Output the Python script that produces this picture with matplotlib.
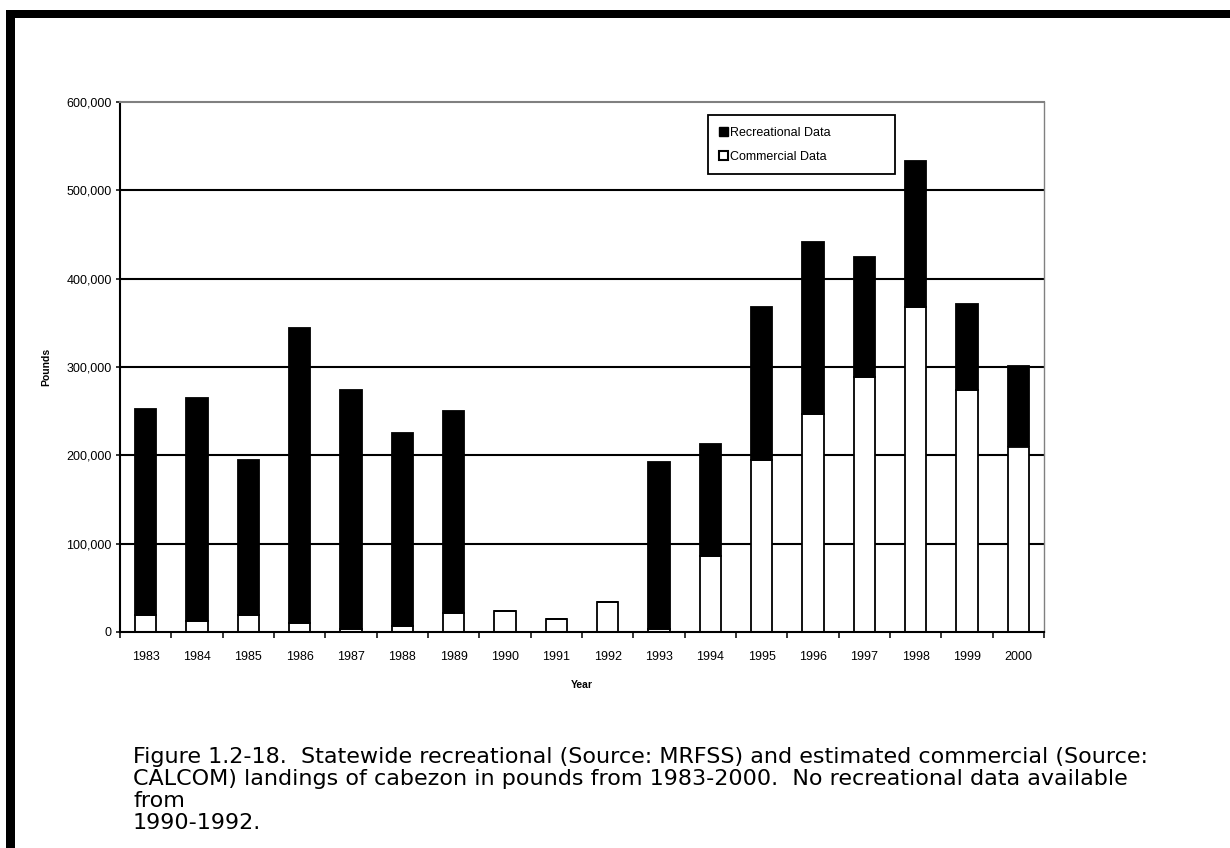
import matplotlib
matplotlib.use("Agg")
import matplotlib.pyplot as plt
from matplotlib.patches import Patch, Rectangle
from matplotlib.ticker import FuncFormatter

plt.rcParams['font.family'] = ['Liberation Sans', 'DejaVu Sans']

years = [1983, 1984, 1985, 1986, 1987, 1988, 1989, 1990, 1991,
         1992, 1993, 1994, 1995, 1996, 1997, 1998, 1999, 2000]
commercial = [19000, 12500, 19000, 10000, 3500, 7000, 22000, 24000, 15000,
              33500, 3500, 86000, 195000, 247000, 289000, 368000, 274000, 210000]
recreational = [234000, 252500, 176000, 334000, 270500, 218500, 228000, 0, 0,
                0, 188500, 127000, 173000, 194000, 136000, 165000, 97000, 91500]
y_ticks = [0, 100000, 200000, 300000, 400000, 500000, 600000]

caption_lines = [
    "Figure 1.2-18.  Statewide recreational (Source: MRFSS) and estimated commercial (Source:",
    "CALCOM) landings of cabezon in pounds from 1983-2000.  No recreational data available",
    "from",
    "1990-1992.",
]

W, H = 1230, 848
fig = plt.figure(figsize=(W / 100, H / 100), dpi=100)
ax = fig.add_axes([120 / W, 1 - 632 / H, 924 / W, 530 / H])

x = list(range(len(years)))
ax.bar(x, commercial, width=0.42, color='white', edgecolor='black',
       linewidth=1.3, label='Commercial Data', zorder=2)
ax.bar(x, recreational, width=0.42, bottom=commercial, color='black',
       edgecolor='black', linewidth=1.3, label='Recreational Data', zorder=2)

ax.set_xlim(-0.5, len(years) - 0.5)
ax.set_ylim(0, 600000)
ax.set_yticks(y_ticks)
ax.yaxis.set_major_formatter(FuncFormatter(lambda v, p: '{:,}'.format(int(v))))
ax.set_xticks(x)
ax.set_xticklabels([str(yr) for yr in years])
ax.set_xticks([i - 0.5 for i in range(len(years) + 1)], minor=True)

ax.tick_params(axis='y', direction='out', length=3, width=1.1, labelsize=9, pad=3)
ax.tick_params(axis='x', which='major', length=0, labelsize=9, pad=14)
ax.tick_params(axis='x', which='minor', direction='out', length=4.5, width=1.1)

for yv in y_ticks[1:-1]:
    ax.axhline(yv, color='black', linewidth=1.5, zorder=1)

ax.spines['left'].set_linewidth(1.5)
ax.spines['bottom'].set_linewidth(1.5)
ax.spines['top'].set_color('#808080')
ax.spines['top'].set_linewidth(1.5)
ax.spines['right'].set_color('#808080')
ax.spines['right'].set_linewidth(1.0)

ax.set_xlabel('Year', fontsize=7.5, fontweight='bold', labelpad=12)
ax.set_ylabel('Pounds', fontsize=7.5, fontweight='bold', labelpad=11)

handles = [Patch(facecolor='black', edgecolor='black', label='Recreational Data'),
           Patch(facecolor='white', edgecolor='black', linewidth=1.5, label='Commercial Data')]
leg = ax.legend(handles=handles, loc='upper left', mode='expand',
                bbox_to_anchor=(0.636, 0.975, 0.2025, 0.0), fontsize=9,
                handlelength=0.7, handleheight=0.7, handletextpad=0.2,
                labelspacing=1.0, borderpad=0.9, fancybox=False, framealpha=1,
                borderaxespad=0)
leg.get_frame().set_edgecolor('black')
leg.get_frame().set_linewidth(1.3)

# page frame
fig.add_artist(Rectangle((6 / W, 0), 9 / W, 1 - 10 / H, transform=fig.transFigure,
                         facecolor='black', edgecolor='none'))
fig.add_artist(Rectangle((6 / W, 1 - 18 / H), 1, 8 / H, transform=fig.transFigure,
                         facecolor='black', edgecolor='none'))

baselines = [763, 785, 807, 829]
for line, yb in zip(caption_lines, baselines):
    fig.text(133 / W, 1 - yb / H, line, fontsize=16, va='baseline', ha='left',
             family=['DejaVu Sans'])

fig.savefig('out.png', dpi=100)
